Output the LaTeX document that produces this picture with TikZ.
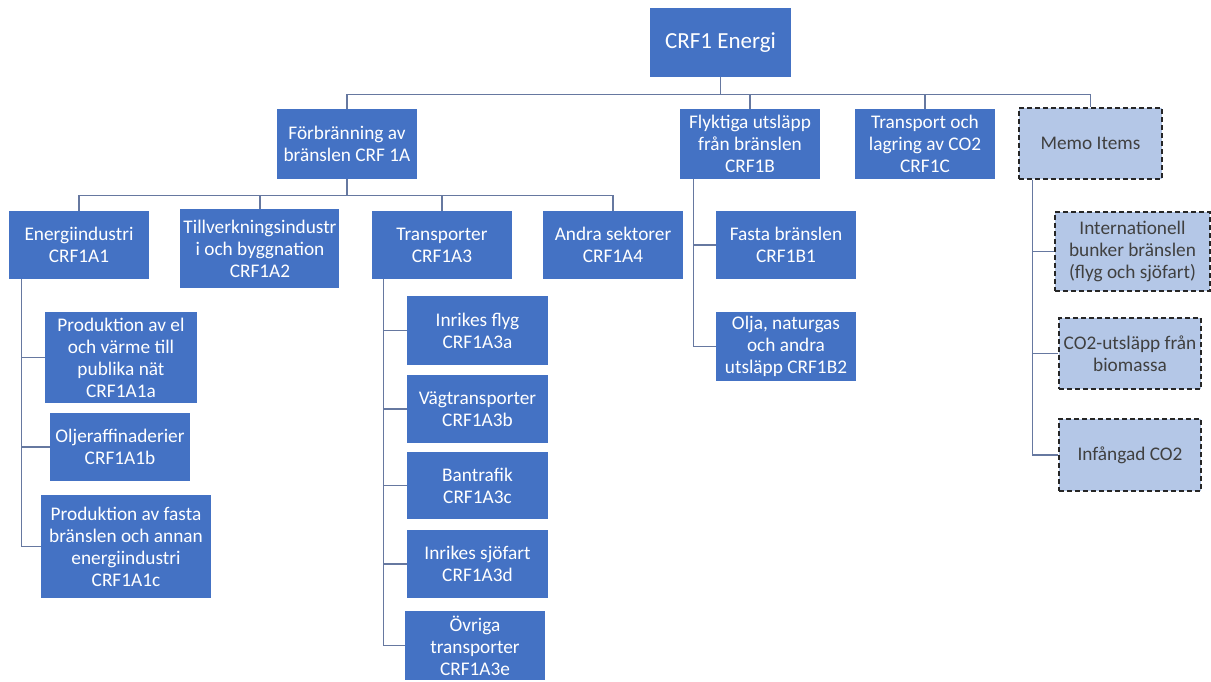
\documentclass[tikz,border=0pt]{standalone}
\usepackage{fontspec}
\setmainfont{Carlito}
\usepackage{tikz}
\usetikzlibrary{positioning}
\definecolor{crfblue}{HTML}{4472C4}
\definecolor{memoblue}{HTML}{B4C7E7}
\definecolor{linegray}{HTML}{6678A0}
\definecolor{memotext}{HTML}{404040}
\tikzstyle{cat} = [rectangle, minimum width=140pt, minimum height=68pt, text centered, align=center, fill=crfblue, text=white, inner sep=1pt, font=\fontsize{19.3}{22}\selectfont]
\tikzstyle{memo} = [cat, fill=memoblue, text=memotext, draw=black!85, dash pattern=on 5pt off 3pt, line width=1.3pt]
\tikzstyle{link} = [draw=linegray, line width=1.3pt]

\begin{document}
\begin{tikzpicture}[node distance=101pt]
\useasboundingbox (-720.5pt,42.5pt) rectangle (490.5pt,-639.5pt);

\node (energi) [cat, minimum width=141pt, minimum height=69pt, font=\fontsize{23}{27}\selectfont] {CRF1 Energi};
\node (forb) [cat, below of=energi, xshift=-373.5pt, yshift=-0.5pt, minimum height=70pt] {Förbränning av\\bränslen CRF 1A};
\node (flyk) [cat, below of=energi, xshift=29.5pt, yshift=-0.5pt, minimum height=70pt] {Flyktiga utsläpp\\från bränslen\\CRF1B};
\node (lagr) [cat, below of=energi, xshift=204.5pt, yshift=-0.5pt, minimum height=70pt] {Transport och\\lagring av CO2\\CRF1C};
\node (memo) [memo, below of=energi, xshift=370pt, minimum width=143pt, minimum height=71pt] {Memo Items};

\node (ene) [cat, below of=forb, xshift=-268pt] {Energiindustri\\CRF1A1};
\node (till) [cat, below of=forb, xshift=-87pt, yshift=-3.5pt, minimum width=159pt, minimum height=79pt] {Tillverkningsindustr\\i och byggnation\\CRF1A2};
\node (transp) [cat, below of=forb, xshift=95pt] {Transporter\\CRF1A3};
\node (andra) [cat, below of=forb, xshift=266pt] {Andra sektorer\\CRF1A4};
\node (fasta) [cat, below of=flyk, xshift=36pt] {Fasta bränslen\\CRF1B1};
\node (olja) [cat, below of=fasta, yshift=-0.5pt, minimum height=69pt] {Olja, naturgas\\och andra\\utsläpp CRF1B2};

\node (prodel) [cat, below of=ene, xshift=42pt, yshift=-11.5pt, minimum width=152pt, minimum height=91pt] {Produktion av el\\och värme till\\publika nät\\CRF1A1a};
\node (olje) [cat, below of=prodel, xshift=-1pt, yshift=11.5pt] {Oljeraffinaderier\\CRF1A1b};
\node (fastbr) [cat, below of=olje, xshift=6pt, yshift=1.5pt, minimum width=170pt, minimum height=103pt] {Produktion av fasta\\bränslen och annan\\energiindustri\\CRF1A1c};

\node (flyg) [cat, below of=transp, xshift=35.5pt, yshift=15.5pt, minimum width=141pt, minimum height=69pt] {Inrikes flyg\\CRF1A3a};
\node (vag) [cat, below of=flyg, yshift=22.5pt, minimum width=141pt] {Vägtransporter\\CRF1A3b};
\node (ban) [cat, below of=vag, yshift=24.5pt, minimum width=141pt, minimum height=67pt] {Bantrafik\\CRF1A3c};
\node (sjo) [cat, below of=ban, yshift=22.5pt, minimum width=141pt] {Inrikes sjöfart\\CRF1A3d};
\node (ovr) [cat, below of=sjo, xshift=-2.5pt, yshift=19.5pt, minimum height=69pt] {Övriga\\transporter\\CRF1A3e};

\node (intl) [memo, below of=memo, xshift=42pt, yshift=-7pt, minimum width=155pt, minimum height=79pt] {Internationell\\bunker bränslen\\(flyg och sjöfart)};
\node (co2) [memo, below of=intl, xshift=-2.5pt, yshift=-1pt, minimum width=142pt, minimum height=71pt] {CO2-utsläpp från\\biomassa};
\node (inf) [memo, below of=co2, yshift=-0.5pt, minimum width=142pt, minimum height=72pt] {Infångad CO2};

% Connectors
\draw [link] (energi.south) -- ++(0,-17pt) -| (forb.north);
\draw [link] (energi.south) -- ++(0,-17pt) -| (flyk.north);
\draw [link] (energi.south) -- ++(0,-17pt) -| (lagr.north);
\draw [link] (energi.south) -- ++(0,-17pt) -| (memo.north);
\draw [link] (forb.south) -- ++(0,-16pt) -| (ene.north);
\draw [link] (forb.south) -- ++(0,-16pt) -| (till.north);
\draw [link] (forb.south) -- ++(0,-16pt) -| (transp.north);
\draw [link] (forb.south) -- ++(0,-16pt) -| (andra.north);
\draw [link] (ene.south west) ++(13pt,0) |- (prodel.west);
\draw [link] (ene.south west) ++(13pt,0) |- (olje.west);
\draw [link] (ene.south west) ++(13pt,0) |- (fastbr.west);
\draw [link] (transp.south west) ++(12pt,0) |- (flyg.west);
\draw [link] (transp.south west) ++(12pt,0) |- (vag.west);
\draw [link] (transp.south west) ++(12pt,0) |- (ban.west);
\draw [link] (transp.south west) ++(12pt,0) |- (sjo.west);
\draw [link] (transp.south west) ++(12pt,0) |- (ovr.west);
\draw [link] (flyk.south west) ++(14pt,0) |- (fasta.west);
\draw [link] (flyk.south west) ++(14pt,0) |- (olja.west);
\draw [link] (memo.south west) ++(14pt,0) |- (intl.west);
\draw [link] (memo.south west) ++(14pt,0) |- (co2.west);
\draw [link] (memo.south west) ++(14pt,0) |- (inf.west);
\end{tikzpicture}
\end{document}
